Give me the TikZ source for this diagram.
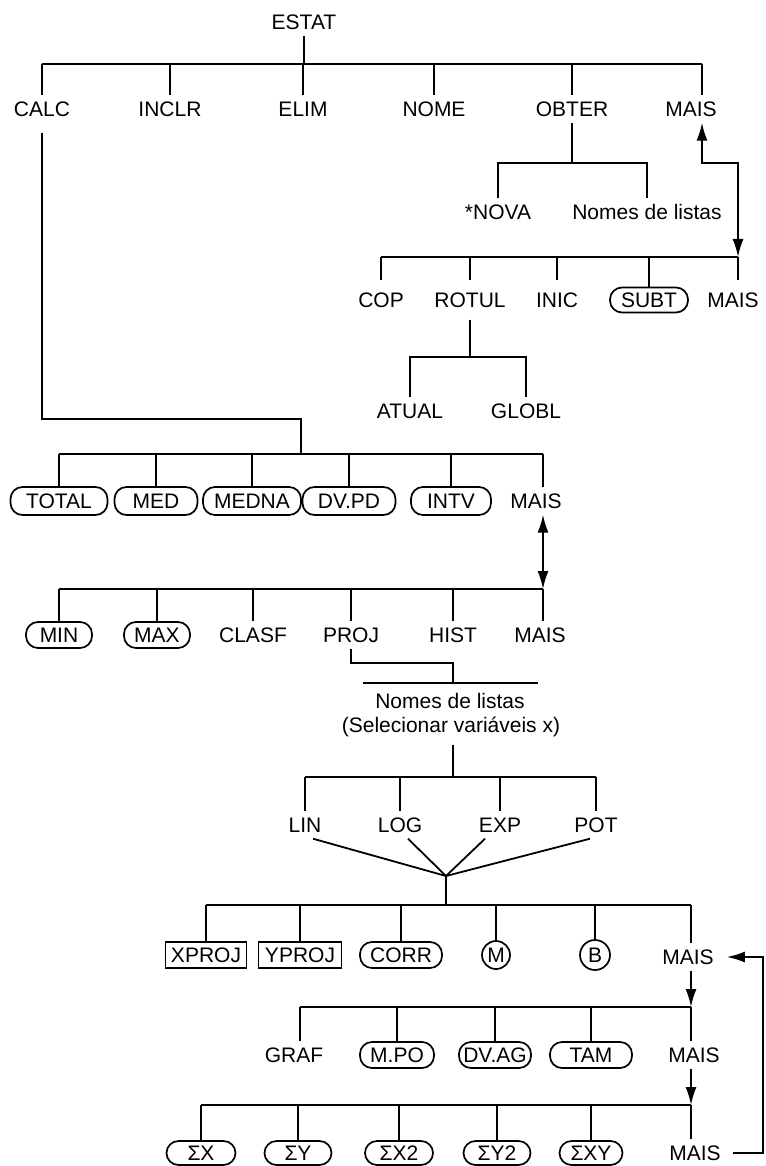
\documentclass[tikz,border=0pt]{standalone}
\usepackage{fontspec}
\setmainfont{Liberation Sans}
\usetikzlibrary{arrows.meta,calc}
\begin{document}
\begin{tikzpicture}[x=1pt,y=-1pt,
  every node/.style={font=\fontsize{21}{24}\selectfont, text height=15pt, text depth=0pt},
  lbl/.style={inner xsep=3pt, inner ysep=6pt},
  pill/.style={draw, line width=1.7pt, rounded corners=12pt, minimum height=26pt, inner sep=0pt},
  boxn/.style={draw, line width=1.7pt, minimum height=26pt, inner sep=0pt},
  circ/.style={draw, circle, line width=1.7pt, minimum size=28pt, inner sep=0pt},
  ln/.style={line width=1.8pt},
  onearrow/.style={-{Latex[length=18pt,width=11pt]}},
  dblarrow/.style={{Latex[length=18pt,width=11pt]}-{Latex[length=18pt,width=11pt]}}]
\useasboundingbox (0,0) rectangle (765,1166);

% ---- row 1
\node[lbl] (estat) at (304,22) {ESTAT};
\coordinate (b1) at (0,64);
\node[lbl] (calc) at (42,109) {CALC};
\node[lbl] (inclr) at (170,109) {INCLR};
\node[lbl] (elim) at (303,109) {ELIM};
\node[lbl] (nome) at (434,109) {NOME};
\node[lbl] (obter) at (572,109) {OBTER};
\node[lbl] (mais1) at (691,109) {MAIS};
\coordinate (m1) at (702,0);
\draw[ln] (estat) -- (estat |- b1);
\draw[ln] (calc |- b1) -- (m1 |- b1);
\foreach \n in {calc,inclr,elim,nome,obter} \draw[ln] (\n |- b1) -- (\n.north);
\draw[ln] (m1 |- b1) -- (m1 |- mais1.north);

% ---- OBTER subtree
\coordinate (b2) at (0,163);
\node[lbl] (nova) at (498,212) {*NOVA};
\node[lbl] (listas1) at (647,212) {Nomes de listas};
\draw[ln] (obter.south) -- (obter |- b2);
\draw[ln] (nova.north) |- (listas1 |- b2) -- (listas1.north);

% ---- row 3
\coordinate (b3) at (0,257);
\coordinate (m3) at (738,0);
\draw[ln,dblarrow] (m1 |- mais1.south) -- (m1 |- b2) -| (m3 |- b3);
\node[lbl, inner ysep=12pt] (cop) at (381,300) {COP};
\node[lbl, inner ysep=12pt] (rotul) at (470,300) {ROTUL};
\node[lbl, inner ysep=12pt] (inic) at (557,300) {INIC};
\node[pill, minimum width=78pt, minimum height=25pt] (subt) at (649,300) {SUBT};
\node[lbl, inner ysep=12pt] (mais3) at (733,300) {MAIS};
\draw[ln] (cop |- b3) -- (m3 |- b3);
\foreach \n in {cop,rotul,inic,subt} \draw[ln] (\n |- b3) -- (\n.north);
\draw[ln] (m3 |- b3) -- (m3 |- mais3.north);

% ---- ROTUL subtree
\coordinate (b3a) at (0,357);
\node[lbl] (atual) at (410,411) {ATUAL};
\node[lbl] (globl) at (526,411) {GLOBL};
\draw[ln] (rotul.south) -- (rotul |- b3a);
\draw[ln] (atual.north) |- (globl |- b3a) -- (globl.north);

% ---- CALC subtree
\coordinate (cc) at (301,419);
\coordinate (b4) at (0,454);
\draw[ln] ([yshift=-10pt]calc.south) |- (cc) -- (cc |- b4);

% ---- row 4
\node[pill, minimum width=97pt, minimum height=28pt] (total) at (59,501) {TOTAL};
\node[pill, minimum width=83pt, minimum height=28pt] (med) at (156,501) {MED};
\node[pill, minimum width=98pt, minimum height=28pt] (medna) at (252,501) {MEDNA};
\node[pill, minimum width=93pt, minimum height=28pt] (dvpd) at (349,501) {DV.PD};
\node[pill, minimum width=80pt, minimum height=28pt] (intv) at (451,501) {INTV};
\node[lbl] (mais4) at (536,501) {MAIS};
\coordinate (m4) at (543,0);
\draw[ln] (total |- b4) -- (m4 |- b4);
\foreach \n in {total,med,medna,dvpd,intv} \draw[ln] (\n |- b4) -- (\n.north);
\draw[ln] (m4 |- b4) -- (m4 |- mais4.north);

% ---- row 5
\coordinate (b5) at (0,589);
\draw[ln,dblarrow] (m4 |- mais4.south) -- (m4 |- b5);
\node[pill, minimum width=66pt] (nmin) at (59,635) {MIN};
\node[pill, minimum width=66pt] (nmax) at (157,635) {MAX};
\node[lbl] (clasf) at (253,635) {CLASF};
\node[lbl] (proj) at (351,635) {PROJ};
\node[lbl] (hist) at (453,635) {HIST};
\node[lbl] (mais5) at (540,635) {MAIS};
\draw[ln] (nmin |- b5) -- (m4 |- b5);
\foreach \n in {nmin,nmax,clasf,proj,hist} \draw[ln] (\n |- b5) -- (\n.north);
\draw[ln] (m4 |- b5) -- (m4 |- mais5.north);

% ---- PROJ subtree
\coordinate (pj) at (453,663);
\node[lbl, inner ysep=10pt] (listas2) at (450,701) {Nomes de listas};
\node[lbl, inner ysep=12pt] (selx) at (451,725) {(Selecionar variáveis x)};
\draw[ln] (proj.south) |- (pj) -- (pj |- listas2.north);
\draw[ln] ([xshift=-87pt]listas2.north) -- ([xshift=88pt]listas2.north);

% ---- row 6
\coordinate (b6) at (0,777);
\node[lbl] (nlin) at (305,825) {LIN};
\node[lbl] (nlog) at (400,825) {LOG};
\node[lbl] (nexp) at (500,825) {EXP};
\node[lbl] (npot) at (596,825) {POT};
\draw[ln] (pj |- selx.south) -- (pj |- b6);
\draw[ln] (nlin |- b6) -- (npot |- b6);
\foreach \n in {nlin,nlog,nexp,npot} \draw[ln] (\n |- b6) -- (\n.north);
\coordinate (cv) at (446,876);
\draw[ln] ([xshift=8pt]nlin.south) -- (cv);
\draw[ln] ([xshift=8pt]nlog.south) -- (cv);
\draw[ln] ([xshift=-15pt]nexp.south) -- (cv);
\draw[ln] ([xshift=-6pt]npot.south) -- (cv);

% ---- row 7
\coordinate (b7) at (0,905);
\draw[ln] (cv) -- (cv |- b7);
\node[boxn, minimum width=81pt] (xproj) at (206,955) {XPROJ};
\node[boxn, minimum width=83pt] (yproj) at (300,955) {YPROJ};
\node[pill, minimum width=82pt] (corr) at (401,955) {CORR};
\node[circ] (cm) at (496,955) {M};
\node[circ, minimum size=30pt] (cb) at (595,955) {B};
\node[lbl] (mais7) at (688,957) {MAIS};
\coordinate (m7) at (691,0);
\draw[ln] (xproj |- b7) -- (m7 |- b7);
\foreach \n in {xproj,yproj,corr,cm,cb} \draw[ln] (\n |- b7) -- (\n.north);
\draw[ln] (m7 |- b7) -- (m7 |- mais7.north);

% ---- row 8
\coordinate (b8) at (0,1007);
\draw[ln,onearrow] (m7 |- mais7.south) -- (m7 |- b8);
\node[lbl] (graf) at (294,1055) {GRAF};
\node[pill, minimum width=74pt] (mpo) at (397,1055) {M.PO};
\node[pill, minimum width=72pt] (dvag) at (495,1055) {DV.AG};
\node[pill, minimum width=82pt] (tam) at (591,1055) {TAM};
\node[lbl] (mais8) at (694,1055) {MAIS};
\coordinate (g8) at (300,0);
\draw[ln] (g8 |- b8) -- (m7 |- b8);
\draw[ln] (g8 |- b8) -- (g8 |- graf.north);
\foreach \n in {mpo,dvag,tam} \draw[ln] (\n |- b8) -- (\n.north);
\draw[ln] (m7 |- b8) -- (m7 |- mais8.north);

% ---- row 9
\coordinate (b9) at (0,1105);
\draw[ln,onearrow] (m7 |- mais8.south) -- (m7 |- b9);
\node[pill, minimum width=69pt, minimum height=24pt] (sx) at (201,1153) {ΣX};
\node[pill, minimum width=67pt, minimum height=24pt] (sy) at (298,1153) {ΣY};
\node[pill, minimum width=68pt, minimum height=24pt] (sxx) at (399,1153) {ΣX2};
\node[pill, minimum width=67pt, minimum height=24pt] (syy) at (497,1153) {ΣY2};
\node[pill, minimum width=63pt, minimum height=24pt] (sxy) at (591,1153) {ΣXY};
\node[lbl] (mais9) at (695,1153) {MAIS};
\draw[ln] (sx |- b9) -- (m7 |- b9);
\foreach \n in {sx,sy,sxx,syy,sxy} \draw[ln] (\n |- b9) -- (\n.north);
\draw[ln] (m7 |- b9) -- (m7 |- mais9.north);

% ---- return arrow
\coordinate (rr) at (763,0);
\draw[ln,onearrow] ([xshift=9pt]mais9.east) -| (rr |- mais7) -- ([xshift=10pt]mais7.east);
\end{tikzpicture}
\end{document}
